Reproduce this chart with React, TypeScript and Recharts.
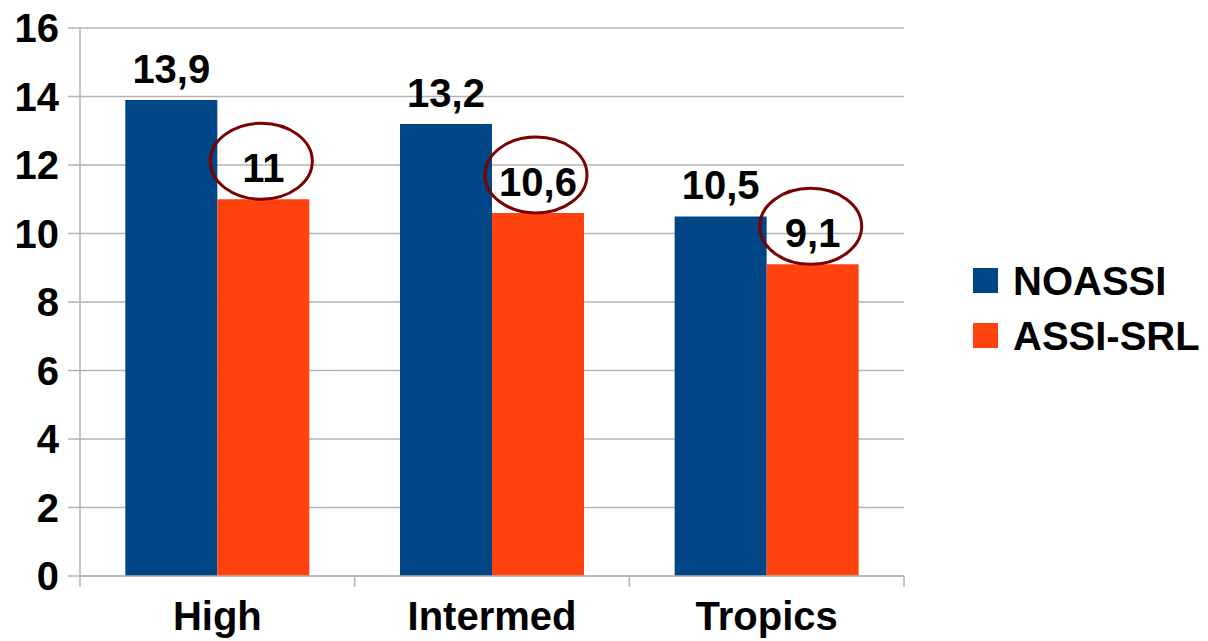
import { Bar, BarChart, CartesianGrid, LabelList, Legend, XAxis, YAxis } from 'recharts'

const regions = ['High', 'Intermed', 'Tropics']
const seriesNames = ['NOASSI', 'ASSI-SRL']
const noassi = [13.9, 13.2, 10.5]
const assiSrl = [11, 10.6, 9.1]
const yTicks = [0, 2, 4, 6, 8, 10, 12, 14, 16]

const data = regions.map((region, i) => ({
  region,
  noassi: noassi[i],
  assiSrl: assiSrl[i],
}))

const FONT = '"Liberation Sans", Arial, sans-serif'
const GRID = '#b3b3b3'
const BLUE = '#004586'
const ORANGE = '#ff420e'
const RING = '#7b0000'
const LEGEND_W = 235
const LABEL_GAP = 26
const EDGE_TICK = 11

const fmt = (v: number) => String(v).replace('.', ',')

const textStyle = {
  fontFamily: FONT,
  fontSize: 40,
  fontWeight: 700,
  fill: '#000',
}

function PlainLabel(props: any) {
  const { x, y, width, value } = props
  return (
    <text x={x + width / 2} y={y - 17} textAnchor="middle" style={textStyle}>
      {fmt(value)}
    </text>
  )
}

function CircledLabel(props: any) {
  const { x, y, width, value } = props
  const cx = x + width / 2
  return (
    <g>
      <ellipse
        cx={cx - 2}
        cy={y - 38}
        rx={51}
        ry={38}
        fill="none"
        stroke={RING}
        strokeWidth={3}
      />
      <text x={cx} y={y - 17} textAnchor="middle" style={textStyle}>
        {fmt(value)}
      </text>
    </g>
  )
}

// category name plus the short marks at the band edges below the axis
function CategoryTick(props: any) {
  const { x, y, payload, index, visibleTicksCount } = props
  const half = payload?.offset ?? 0
  const axisY = y - LABEL_GAP
  const isLast = index === (visibleTicksCount ?? regions.length) - 1
  return (
    <g>
      <line
        x1={x - half}
        x2={x - half}
        y1={axisY}
        y2={axisY + EDGE_TICK}
        stroke={GRID}
        strokeWidth={1.5}
      />
      {isLast && (
        <line
          x1={x + half}
          x2={x + half}
          y1={axisY}
          y2={axisY + EDGE_TICK}
          stroke={GRID}
          strokeWidth={1.5}
        />
      )}
      <text x={x} y={y} dy="0.71em" textAnchor="middle" style={textStyle}>
        {payload.value}
      </text>
    </g>
  )
}

function SideLegend(props: any) {
  const items = [...(props.payload || [])].sort(
    (a: any, b: any) => seriesNames.indexOf(a.value) - seriesNames.indexOf(b.value)
  )
  return (
    <div>
      {items.map((item: any) => (
        <div
          key={item.value}
          style={{ display: 'flex', alignItems: 'center', height: 55 }}
        >
          <div
            style={{ width: 25, height: 25, background: item.color, marginRight: 15 }}
          />
          <span
            style={{
              fontFamily: FONT,
              fontSize: 40,
              fontWeight: 700,
              color: '#000',
              lineHeight: 1,
            }}
          >
            {item.value}
          </span>
        </div>
      ))}
    </div>
  )
}

export default function App() {
  return (
    <div style={{ width: 1208, height: 641, background: '#fff' }}>
      <style>{'body { margin: 0; }'}</style>
      <BarChart
        width={1208}
        height={641}
        data={data}
        margin={{ top: 28, right: 304 - LEGEND_W, left: 0, bottom: 0 }}
        barCategoryGap="16.5%"
        barGap={0}
      >
        <CartesianGrid vertical={false} stroke={GRID} strokeWidth={1.5} />
        <XAxis
          dataKey="region"
          height={65}
          axisLine={{ stroke: GRID, strokeWidth: 1.5 }}
          tickLine={false}
          tickSize={0}
          tickMargin={LABEL_GAP}
          interval={0}
          tick={<CategoryTick />}
        />
        <YAxis
          domain={[0, 16]}
          ticks={yTicks}
          width={80}
          axisLine={{ stroke: GRID, strokeWidth: 1.5 }}
          tickLine={{ stroke: GRID, strokeWidth: 1.5 }}
          tickSize={12}
          tickMargin={9}
          tick={{ ...textStyle }}
        />
        <YAxis
          yAxisId="right"
          orientation="right"
          domain={[0, 16]}
          width={0}
          tick={false}
          tickLine={false}
          axisLine={{ stroke: GRID, strokeWidth: 1.5 }}
        />
        <Legend
          layout="vertical"
          verticalAlign="middle"
          align="right"
          content={<SideLegend />}
          wrapperStyle={{ left: 973, top: 253, width: LEGEND_W }}
        />
        <Bar dataKey="noassi" name={seriesNames[0]} fill={BLUE} isAnimationActive={false}>
          <LabelList dataKey="noassi" content={<PlainLabel />} />
        </Bar>
        <Bar dataKey="assiSrl" name={seriesNames[1]} fill={ORANGE} isAnimationActive={false}>
          <LabelList dataKey="assiSrl" content={<CircledLabel />} />
        </Bar>
      </BarChart>
    </div>
  )
}
